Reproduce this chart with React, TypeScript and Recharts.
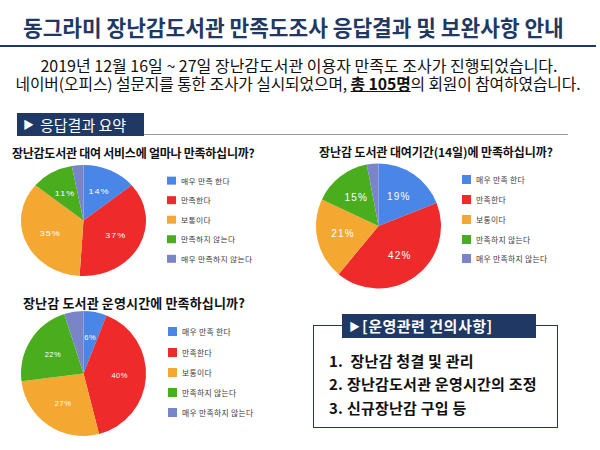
import React from 'react';
import { PieChart, Pie, Cell, Legend } from 'recharts';

const categories = ['매우 만족 한다', '만족한다', '보통이다', '만족하지 않는다', '매우 만족하지 않는다'];
const sliceColors = ['#4a86e8', '#ee2a2a', '#f4a832', '#49ad1d', '#7a85c8'];
const q1Values = [14, 37, 35, 11, 3];
const q2Values = [19, 42, 21, 15, 3];
const q3Values = [6, 40, 27, 22, 5];

const pageTitle = '동그라미 장난감도서관 만족도조사 응답결과 및 보완사항 안내';
const introLine1 = '2019년 12월 16일 ~ 27일 장난감도서관 이용자 만족도 조사가 진행되었습니다.';
const introLine2a = '네이버(오피스) 설문지를 통한 조사가 실시되었으며, ';
const introLine2b = '총 105명';
const introLine2c = '의 회원이 참여하였습니다.';
const sectionLabel = '응답결과 요약';
const q1Title = '장난감도서관 대여 서비스에 얼마나 만족하십니까?';
const q2Title = '장난감 도서관 대여기간(14일)에 만족하십니까?';
const q3Title = '장난감 도서관 운영시간에 만족하십니까?';
const suggestHeader = '[운영관련 건의사항]';
const suggestions = ['1.  장난감 청결 및 관리', '2. 장난감도서관 운영시간의 조정', '3. 신규장난감 구입 등'];

const NAVY = '#1f3864';
const KFONT = '"Noto Sans CJK KR", "Noto Sans", sans-serif';
const RAD = Math.PI / 180;

type ChartProps = {
  values: number[];
  cx: number;
  cy: number;
  r: number;
  legendLeft: number;
  legendTop: number;
  legendGap: number;
  labelSize: number;
  labelSpacing: number;
  legendFont: number;
};

function SurveyPie(p: ChartProps) {
  const data = categories.map((name, i) => ({ name, value: p.values[i] }));
  const renderLabel = (props: any) => {
    const { cx, cy, midAngle, value } = props;
    if (value < 6) return null;
    const lr = p.r * 0.58;
    const x = cx + lr * Math.cos(-midAngle * RAD);
    const y = cy + lr * Math.sin(-midAngle * RAD);
    return (
      <text x={x} y={y} fill="#ffffff" fontSize={p.labelSize} letterSpacing={p.labelSpacing}
        textAnchor="middle" dominantBaseline="central" fontFamily='"Liberation Sans", Arial, sans-serif'>
        {`${value}%`}
      </text>
    );
  };
  const renderLegend = (props: any) => {
    const payload = [...(props.payload || [])].sort(
      (a: any, b: any) => categories.indexOf(a.value) - categories.indexOf(b.value)
    );
    return (
      <div>
        {payload.map((entry: any, i: number) => (
          <div key={i} style={{ height: p.legendGap, display: 'flex', alignItems: 'center' }}>
            <span style={{ width: 9, height: 9, background: entry.color, display: 'inline-block', marginRight: 5, flexShrink: 0 }} />
            <span style={{ fontSize: p.legendFont, color: '#3a3a3a', fontFamily: KFONT, letterSpacing: 0.3, whiteSpace: 'nowrap' }}>{entry.value}</span>
          </div>
        ))}
      </div>
    );
  };
  return (
    <PieChart width={300} height={150} margin={{ top: 0, right: 0, bottom: 0, left: 0 }}>
      <Pie data={data} dataKey="value" nameKey="name" cx={p.cx} cy={p.cy} outerRadius={p.r}
        startAngle={90} endAngle={-270} stroke="none" labelLine={false} label={renderLabel}
        isAnimationActive={false}>
        {data.map((_, i) => (
          <Cell key={i} fill={sliceColors[i]} />
        ))}
      </Pie>
      <Legend layout="vertical" align="right" verticalAlign="top" content={renderLegend}
        wrapperStyle={{ left: p.legendLeft, top: p.legendTop - p.legendGap / 2, right: 'auto', width: 130 }} />
    </PieChart>
  );
}

export default function App() {
  const abs = (o: React.CSSProperties): React.CSSProperties => ({ position: 'absolute', ...o });
  return (
    <div style={{ position: 'relative', width: 600, height: 450, background: '#ffffff', overflow: 'hidden', fontFamily: KFONT }}>
      <style>{'body{margin:0;}'}</style>
      <div style={abs({ left: 23, top: 15, lineHeight: '24px', fontSize: 21.4, fontWeight: 700, color: NAVY, whiteSpace: 'nowrap' })}>{pageTitle}</div>
      <div style={abs({ left: 0, top: 45, width: 596, height: 2, background: NAVY })} />
      <div style={abs({ left: 0, top: 57, width: 598, textAlign: 'center', lineHeight: '17px', fontSize: 16, color: '#111', whiteSpace: 'nowrap' })}>{introLine1}</div>
      <div style={abs({ left: 0, top: 75, width: 596, textAlign: 'center', lineHeight: '17px', fontSize: 15.8, letterSpacing: -0.1, color: '#111', whiteSpace: 'nowrap' })}>
        {introLine2a}<span style={{ fontWeight: 700, textDecoration: 'underline' }}>{introLine2b}</span>{introLine2c}
      </div>

      <div style={abs({ left: 17, top: 113, width: 127, height: 23, background: NAVY })} />
      <div style={abs({ left: 23, top: 113, lineHeight: '23px', fontSize: 11, color: '#fff' })}>▶</div>
      <div style={abs({ left: 40, top: 113, lineHeight: '23px', fontSize: 15, color: '#fff', whiteSpace: 'nowrap' })}>{sectionLabel}</div>
      <div style={abs({ left: 144, top: 134, width: 424, height: 1, background: '#9a9a9a' })} />

      <div style={abs({ left: 12, top: 144, lineHeight: '18px', fontSize: 12, fontWeight: 700, letterSpacing: -0.25, color: '#111', whiteSpace: 'nowrap' })}>{q1Title}</div>
      <div style={abs({ left: 319, top: 143, lineHeight: '18px', fontSize: 12, fontWeight: 700, letterSpacing: -0.1, color: '#111', whiteSpace: 'nowrap' })}>{q2Title}</div>
      <div style={abs({ left: 23, top: 293, lineHeight: '20px', fontSize: 13, fontWeight: 700, letterSpacing: 0.15, color: '#111', whiteSpace: 'nowrap' })}>{q3Title}</div>

      <div style={abs({ left: 0, top: 150, transform: 'scaleY(0.888)', transformOrigin: 'top left' })}>
        <SurveyPie values={q1Values} cx={83.5} cy={79.4} r={62.5} legendLeft={167} legendTop={34.9}
          legendGap={22} labelSize={9} labelSpacing={1} legendFont={7.8} />
      </div>
      <div style={abs({ left: 300, top: 150 })}>
        <SurveyPie values={q2Values} cx={78.5} cy={76} r={62.5} legendLeft={162} legendTop={30}
          legendGap={19.7} labelSize={10} labelSpacing={1.2} legendFont={7.8} />
      </div>
      <div style={abs({ left: 0, top: 300 })}>
        <SurveyPie values={q3Values} cx={83.5} cy={73.5} r={62.5} legendLeft={168} legendTop={32}
          legendGap={20.2} labelSize={7.5} labelSpacing={0.5} legendFont={7.8} />
      </div>

      <div style={abs({ left: 313, top: 325, width: 243, height: 101, border: `1.5px solid ${NAVY}` })} />
      <div style={abs({ left: 342, top: 314, width: 194, height: 24, background: NAVY })} />
      <div style={abs({ left: 349, top: 314, lineHeight: '24px', fontSize: 11, color: '#fff' })}>▶</div>
      <div style={abs({ left: 362, top: 314, lineHeight: '24px', fontSize: 15, fontWeight: 700, letterSpacing: 0.5, color: '#fff', whiteSpace: 'nowrap' })}>{suggestHeader}</div>
      {suggestions.map((s, i) => (
        <div key={i} style={abs({ left: 329, top: [350, 373, 397][i], lineHeight: '22px', fontSize: 15, fontWeight: 700, letterSpacing: 0.25, color: '#111', whiteSpace: 'pre' })}>{s}</div>
      ))}
    </div>
  );
}
